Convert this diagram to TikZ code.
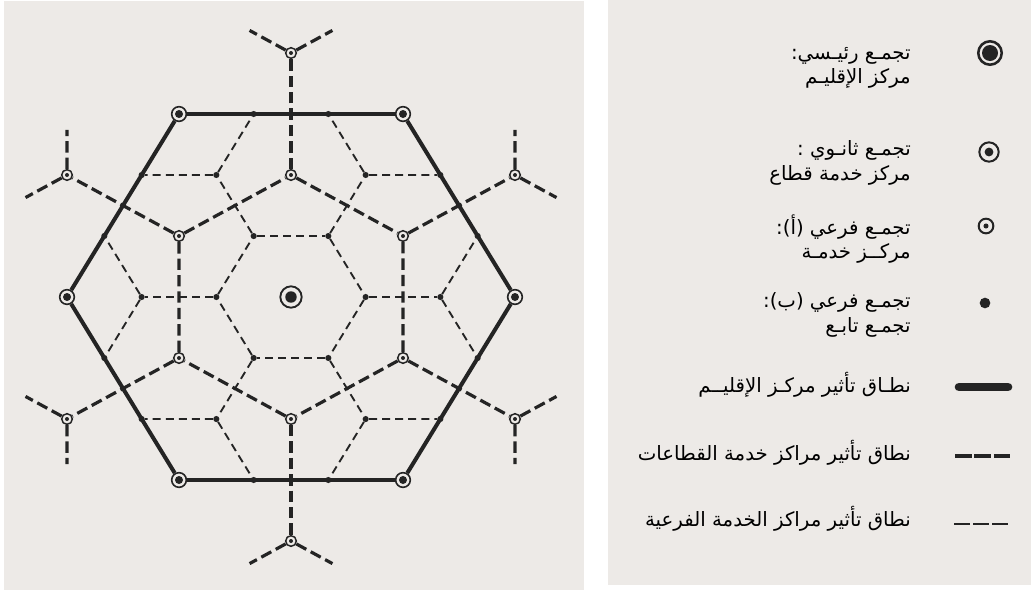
\documentclass[tikz,border=0pt]{standalone}
\usepackage{fontspec}
\newfontfamily\arabicfont[Script=Arabic]{DejaVu Sans}
\TeXXeTstate=1
\definecolor{paper}{RGB}{237,234,231}
\definecolor{ink}{RGB}{36,36,36}
\usetikzlibrary{calc}
\tikzset{
	mainctr/.style={circle, draw=ink, fill=paper, line width=1.4pt, minimum size=16pt, inner sep=0pt, path picture={\fill[ink] (path picture bounding box.center) circle (4.3pt);}},
	secctr/.style={circle, draw=ink, fill=paper, line width=1.2pt, minimum size=11pt, inner sep=0pt, path picture={\fill[ink] (path picture bounding box.center) circle (3pt);}},
	subactr/.style={circle, draw=ink, fill=paper, line width=1.1pt, minimum size=8pt, inner sep=0pt, path picture={\fill[ink] (path picture bounding box.center) circle (1.5pt);}},
	subbdot/.style={circle, fill=ink, minimum size=4.6pt, inner sep=0pt},
	mainleg/.style={circle, draw=ink, fill=paper, line width=1.9pt, minimum size=17.6pt, inner sep=0pt, path picture={\fill[ink] (path picture bounding box.center) circle (6pt);}},
	secleg/.style={circle, draw=ink, fill=paper, line width=1.5pt, minimum size=14.5pt, inner sep=0pt, path picture={\fill[ink] (path picture bounding box.center) circle (3.3pt);}},
	subaleg/.style={circle, draw=ink, fill=paper, line width=1.5pt, minimum size=11pt, inner sep=0pt, path picture={\fill[ink] (path picture bounding box.center) circle (1.9pt);}},
	subbleg/.style={circle, fill=ink, minimum size=8pt, inner sep=0pt},
	regline/.style={draw=ink, line width=3pt},
	secline/.style={draw=ink, line width=2.4pt, dash pattern=on 8.5pt off 3.8pt},
	subline/.style={draw=ink, line width=1.4pt, dash pattern=on 6pt off 3.8pt},
	legtext/.style={anchor=east, align=right, inner sep=0pt, text=black, font=\arabicfont\fontsize{14.8}{18.5}\selectfont},
}

\begin{document}
\begin{tikzpicture}[x=0.75pt, y=-0.75pt]
	\fill[paper] (4,1) rectangle (584,590);
	\fill[paper] (608,0) rectangle (1031,585);
	\useasboundingbox (0,0) rectangle (1034,590);
	% the region
	\begin{scope}[shift={(291,297)}, xscale=1.06]
		\node[mainctr] (reg) at (0,0) {};
		\foreach \k in {0,...,5} {
			\node[secctr] (s\k) at (60*\k:211.3) {};
			\node[subactr] (a\k) at (60*\k+30:122) {};
			\node[subactr] (o\k) at (60*\k+30:244) {};
			\node[subbdot] (p\k) at (60*\k:70.4) {};
			\node[subbdot] (q\k) at (60*\k:140.9) {};
			\coordinate (t\k) at ($(o\k)!0.37!(60*\k+49.1:322.8)$);
			\coordinate (w\k) at ($(o\k)!0.37!(60*\k+10.9:322.8)$);
		}
		\foreach \k [evaluate=\k as \j using {int(mod(\k+1,6))}, evaluate=\k as \i using {int(mod(\k+5,6))}] in {0,...,5} {
			\node[subbdot] (u\k) at ($(s\k)!1/3!(s\j)$) {};
			\node[subbdot] (v\k) at ($(s\k)!1/3!(s\i)$) {};
		}
		\foreach \k [evaluate=\k as \j using {int(mod(\k+1,6))}] in {0,...,5} {
			\draw[regline] (s\k) -- (s\j);
			\draw[secline] (a\k) -- (a\j);
			\draw[secline] (a\k) -- (o\k);
			\draw[secline] (o\k) -- (t\k);
			\draw[secline] (o\k) -- (w\k);
			\draw[subline] (p\k) -- (p\j);
			\draw[subline] (p\k) -- (q\k);
			\draw[subline] (q\k) -- (u\k);
			\draw[subline] (q\k) -- (v\k);
		}
	\end{scope}
	% legend
	\node[mainleg] (kmain) at (990,53) {};
	\node[secleg] (ksec) at (989,152) {};
	\node[subaleg] (ksuba) at (986,226) {};
	\node[subbleg] (ksubb) at (985,303) {};
	\coordinate (kreg1) at (959,387);
	\coordinate (kreg2) at (1008,387);
	\coordinate (ksec1) at (955,456);
	\coordinate (ksec2) at (1011,456);
	\coordinate (ksub1) at (954,524);
	\coordinate (ksub2) at (1009,524);
	\draw[ink, line width=6.5pt, line cap=round] (kreg1) -- (kreg2);
	\draw[ink, line width=3.4pt, dash pattern=on 12.4pt off 2.2pt] (ksec1) -- (ksec2);
	\draw[ink, line width=2.2pt, dash pattern=on 12pt off 2.4pt] (ksub1) -- (ksub2);
	\node[legtext] (tmain) at (911,68) {\beginR تجمـع رئيـسي:\endR\\\beginR مركز الإقليـم\endR};
	\node[legtext] (tsec) at (911,163) {\beginR تجمـع ثانـوي :\endR\\\beginR مركز خدمة قطاع\endR};
	\node[legtext] (tsuba) at (911,239) {\beginR تجمـع فرعي (أ):\endR\\\beginR مركــز خدمـة\endR};
	\node[legtext] (tsubb) at (911,315) {\beginR تجمـع فرعي (ب):\endR\\\beginR تجمـع تابـع\endR};
	\node[legtext] (treg) at (911,385) {\beginR نطـاق تأثير مركـز الإقليــم\endR};
	\node[legtext] (tsecz) at (911,453) {\beginR نطاق تأثير مراكز خدمة القطاعات\endR};
	\node[legtext] (tsubz) at (911,519) {\beginR نطاق تأثير مراكز الخدمة الفرعية\endR};
\end{tikzpicture}
\end{document}
